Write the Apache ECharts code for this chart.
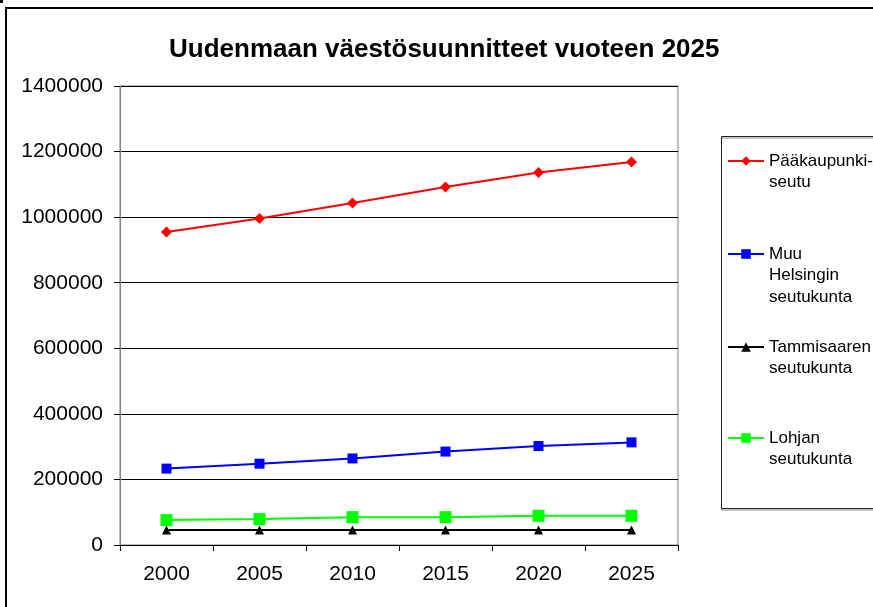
<!DOCTYPE html>
<html>
<head>
<meta charset="utf-8">
<script src="https://cdn.jsdelivr.net/npm/echarts@6/dist/echarts.min.js"></script>
<style>
  html, body { margin: 0; padding: 0; background: #fff; }
  #main { width: 873px; height: 607px; }
</style>
</head>
<body>
<div id="main"></div>
<script>
// data
var vuodet = ['2000', '2005', '2010', '2015', '2020', '2025'];
var paakaupunkiseutu = [955000, 996000, 1043000, 1092000, 1136000, 1168000];
var muuHelsinki = [233000, 248000, 264000, 285000, 302000, 313000];
var tammisaari = [46000, 46000, 46000, 46000, 46000, 46000];
var lohja = [76000, 79000, 85000, 85000, 89000, 89000];

var sarjat = [
    { name: 'Pääkaupunki-\nseutu', data: paakaupunkiseutu, color: '#ff0000', symbol: 'diamond', size: 11, lines: 2, top: 128.75 },
    { name: 'Muu\nHelsingin\nseutukunta', data: muuHelsinki, color: '#0000ff', symbol: 'rect', size: 10, lines: 3, top: 200.25 },
    { name: 'Tammisaaren\nseutukunta', data: tammisaari, color: '#000000', symbol: 'triangle', size: 9, lines: 2, top: 314.75 },
    { name: 'Lohjan\nseutukunta', data: lohja, color: '#00ff00', symbol: 'rect', size: 12, lines: 2, top: 405.75 }
];

var fontti = '"Liberation Sans", Arial, sans-serif';
var riviKorkeus = 21.5;

var myChart = echarts.init(document.getElementById('main'));

var option = {
    backgroundColor: '#ffffff',
    animation: false,
    title: {
        text: 'Uudenmaan väestösuunnitteet vuoteen 2025',
        left: 164,
        top: 32,
        textStyle: {
            fontFamily: fontti,
            fontSize: 26,
            fontWeight: 'bold',
            color: '#000'
        }
    },
    // jokaiselle sarjalle oma selite, jotta rivit osuvat kohdalleen
    legend: sarjat.map(function (s) {
        return {
            data: [s.name],
            orient: 'vertical',
            left: 727,
            top: s.top,
            padding: 0,
            itemWidth: 36,
            itemHeight: 12,
            // tyhjät rivit eteen, jolloin ikoni on ensimmäisen rivin kohdalla
            formatter: function (nimi) {
                return new Array(s.lines).join(' \n') + nimi;
            },
            textStyle: {
                fontFamily: fontti,
                fontSize: 17,
                color: '#000',
                lineHeight: riviKorkeus
            }
        };
    }),
    grid: {
        left: 120,
        right: 195,
        top: 86,
        bottom: 62,
        show: true,
        borderColor: '#808080',
        borderWidth: 1
    },
    xAxis: {
        type: 'category',
        data: vuodet,
        boundaryGap: true,
        axisLine: { lineStyle: { color: '#000', width: 1 } },
        axisTick: { show: true, length: 6, inside: false, lineStyle: { color: '#000' } },
        axisLabel: {
            margin: 19,
            fontFamily: fontti,
            fontSize: 21,
            color: '#000'
        }
    },
    yAxis: {
        type: 'value',
        min: 0,
        max: 1400000,
        interval: 200000,
        axisLine: { show: true, lineStyle: { color: '#808080', width: 1 } },
        axisTick: { show: true, length: 6, lineStyle: { color: '#000' } },
        splitLine: { show: true, lineStyle: { color: '#000', width: 1 } },
        axisLabel: {
            margin: 17,
            fontFamily: fontti,
            fontSize: 21,
            color: '#000',
            formatter: function (v) { return String(v); }
        }
    },
    series: sarjat.map(function (s) {
        return {
            name: s.name,
            type: 'line',
            data: s.data,
            symbol: s.symbol,
            symbolSize: s.size,
            showAllSymbol: true,
            lineStyle: { color: s.color, width: 2 },
            itemStyle: { color: s.color },
            emphasis: { disabled: true }
        };
    }),
    graphic: [
        {
            type: 'rect',
            shape: { x: 6, y: 8, width: 880, height: 610 },
            style: { fill: null, stroke: '#000', lineWidth: 2 },
            silent: true
        },
        {
            type: 'rect',
            shape: { x: 721.5, y: 136.5, width: 170, height: 372 },
            style: { fill: null, stroke: '#222', lineWidth: 1, shadowColor: '#888', shadowOffsetY: 1.5, shadowBlur: 0 },
            silent: true
        },
        {
            type: 'rect',
            shape: { x: 0, y: 0, width: 3, height: 3 },
            style: { fill: '#000' },
            silent: true
        }
    ]
};

myChart.setOption(option);
</script>
</body>
</html>
